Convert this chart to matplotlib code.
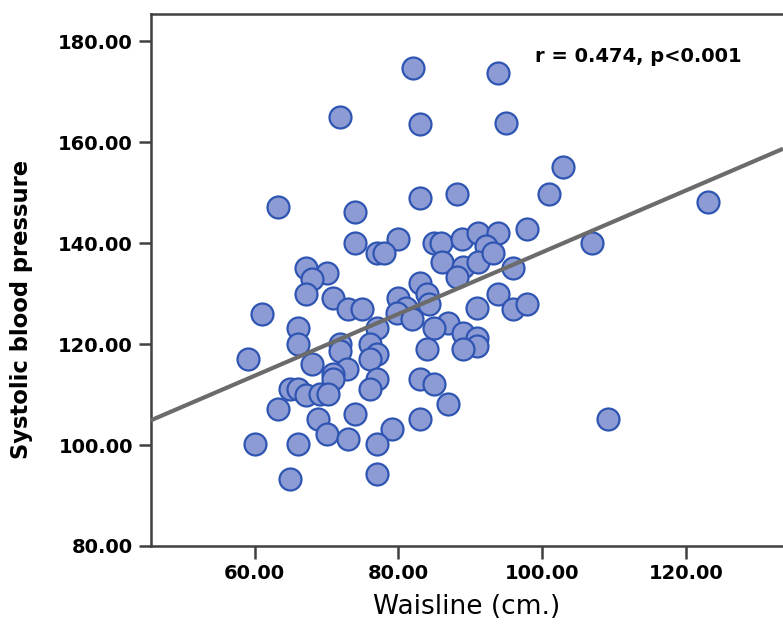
import matplotlib
matplotlib.use('Agg')
import matplotlib.pyplot as plt
import numpy as np

# waist (cm) and systolic BP
waist = [82.1, 93.9, 71.9, 83.0, 95.0, 102.9, 88.1, 101.0, 83.0, 123.0,
         63.2, 74.0, 97.9, 80.0, 74.0, 107.0, 84.9, 86.0, 88.9, 91.1,
         93.9, 92.2, 77.1, 78.0, 67.1, 70.1, 68.0, 86.1, 89.0, 91.1,
         93.1, 96.0, 88.1, 83.0, 67.1, 70.9, 80.0, 84.0, 93.9, 73.0,
         75.0, 81.0, 79.8, 84.2, 91.0, 96.0, 97.9, 61.1, 81.9, 86.9,
         84.9, 66.1, 77.1, 89.0, 91.0, 91.0, 89.0, 84.0, 66.1, 71.9,
         71.9, 76.1, 77.1, 76.0, 59.1, 68.0, 72.9, 70.9, 70.9, 77.1,
         76.1, 65.0, 66.1, 67.1, 69.1, 70.2, 83.0, 85.0, 63.2, 74.0,
         86.9, 68.8, 83.0, 109.1, 79.1, 70.1, 73.0, 60.1, 66.1, 77.1,
         65.0, 77.1]
sbp = [174.8, 173.8, 164.9, 163.7, 163.8, 155.0, 149.8, 149.8, 149.0, 148.1,
       147.1, 146.1, 142.9, 140.9, 140.1, 140.1, 140.1, 140.1, 140.9, 142.1,
       142.1, 139.5, 138.1, 138.1, 135.0, 134.0, 132.8, 136.2, 135.2, 136.2,
       138.1, 135.0, 133.2, 132.2, 130.0, 129.2, 129.2, 130.0, 130.0, 127.0,
       127.0, 127.2, 126.2, 128.0, 127.2, 127.0, 128.0, 126.0, 125.0, 124.2,
       123.1, 123.1, 123.1, 122.1, 121.3, 119.7, 119.1, 119.1, 120.1, 120.1,
       118.7, 120.1, 118.1, 117.1, 117.1, 116.1, 115.1, 114.1, 113.1, 113.1,
       111.2, 111.2, 111.2, 110.0, 110.2, 110.2, 113.1, 112.1, 107.2, 106.2,
       108.2, 105.2, 105.2, 105.2, 103.2, 102.2, 101.2, 100.2, 100.2, 100.2,
       93.3, 94.3]

# fit line as drawn in the reference
fit_intercept = 77.0
fit_slope = 0.612
stat_text = 'r = 0.474, p<0.001'

xticks = [60, 80, 100, 120]
yticks = [80, 100, 120, 140, 160, 180]

fig = plt.figure(figsize=(7.83, 6.28), dpi=100)
ax = fig.add_axes([0.1928, 0.1306, 0.8072, 0.8471])

ax.scatter(waist, sbp, s=250, facecolor='#8c9bd4', edgecolor='#2f55b3',
           linewidth=1.6, zorder=3)

xs = np.array([45.6, 133.5])
ax.plot(xs, fit_intercept + fit_slope * xs, color='#6b6b6b', linewidth=3,
        zorder=4, solid_capstyle='butt')

ax.set_xlim(45.6, 133.5)
ax.set_ylim(80, 185.4)
ax.set_xticks(xticks)
ax.set_yticks(yticks)
ax.set_xticklabels([f'{v:.2f}' for v in xticks], fontsize=14, fontweight='bold')
ax.set_yticklabels([f'{v:.2f}' for v in yticks], fontsize=14, fontweight='bold')
ax.tick_params(length=9, width=1.8, color='#404040', pad=4)

for side in ['left', 'bottom', 'top']:
    ax.spines[side].set_color('#404040')
    ax.spines[side].set_linewidth(1.8)
ax.spines['right'].set_visible(False)

ax.set_xlabel('Waisline (cm.)', fontsize=19, labelpad=8)
ax.set_ylabel('Systolic blood pressure', fontsize=16.3, fontweight='bold')
ax.yaxis.set_label_coords(-0.186, 0.444)

ax.text(99.0, 177.0, stat_text, fontsize=14, fontweight='bold',
        va='center', ha='left')

fig.savefig('out.png', dpi=100)
